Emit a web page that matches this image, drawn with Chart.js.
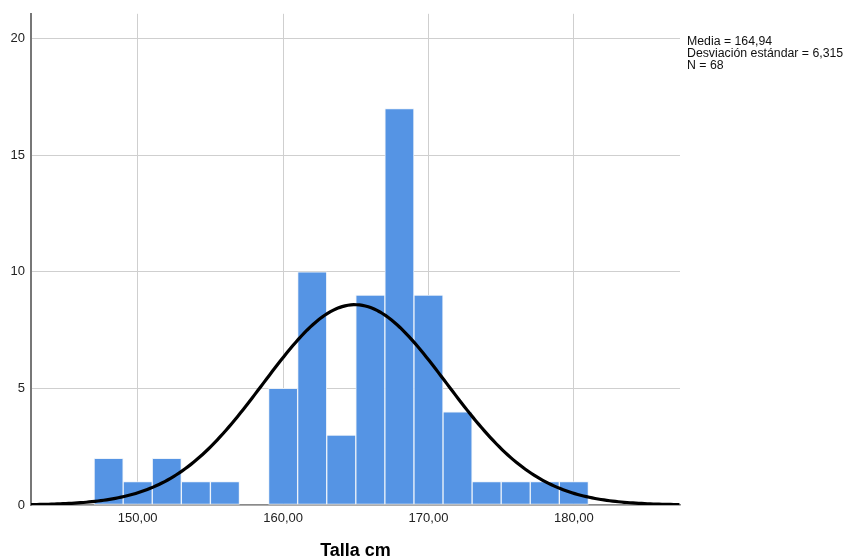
<!DOCTYPE html>
<html>
<head>
<meta charset="utf-8">
<script src="https://cdn.jsdelivr.net/npm/chart.js@4/dist/chart.umd.min.js"></script>
<style>
  html, body { margin: 0; padding: 0; background: #fff; }
  #wrap { width: 848px; height: 560px; }
</style>
</head>
<body>
<div id="wrap"><canvas id="myChart" width="848" height="560"></canvas></div>
<script>
// bin centres (2 cm wide) and counts
const binCenters = [148, 150, 152, 154, 156, 158, 160, 162, 164, 166, 168, 170, 172, 174, 176, 178, 180];
const counts     = [2, 1, 2, 1, 1, 0, 5, 10, 3, 9, 17, 9, 4, 1, 1, 1, 1];
const xTicks = [150, 160, 170, 180];
const yTicks = [0, 5, 10, 15, 20];
const media = 164.94;
const desviacion = 6.315;
const n = 68;
const binWidth = 2;
const statLines = ['Media = 164,94', 'Desviación estándar = 6,315', 'N = 68'];

const xMin = 142.66, xMax = 187.3;

// fitted normal curve scaled to counts per bin
const curve = [];
for (let x = xMin; x <= xMax + 0.001; x += 0.2) {
    const z = (x - media) / desviacion;
    curve.push({ x: x, y: n * binWidth / (desviacion * Math.sqrt(2 * Math.PI)) * Math.exp(-0.5 * z * z) });
}

const fmt = v => v.toFixed(2).replace('.', ',');

const statsText = {
    id: 'statsText',
    afterDraw(chart) {
        const ctx = chart.ctx;
        ctx.save();
        ctx.font = '12.3px "Liberation Sans", Arial, sans-serif';
        ctx.fillStyle = '#111';
        ctx.textBaseline = 'middle';
        statLines.forEach((t, i) => ctx.fillText(t, 687, 42 + i * 12));
        ctx.restore();
    }
};

Chart.defaults.font.family = '"Liberation Sans", Arial, sans-serif';
Chart.defaults.color = '#222';

new Chart(document.getElementById('myChart').getContext('2d'), {
    type: 'bar',
    data: {
        datasets: [
            {
                type: 'line',
                data: curve,
                borderColor: '#000',
                borderWidth: 3.2,
                pointRadius: 0,
                tension: 0,
                order: 0
            },
            {
                data: binCenters.map((c, i) => ({ x: c, y: counts[i] })),
                backgroundColor: '#5594e4',
                borderColor: 'rgba(235,242,250,0.9)',
                borderWidth: 1,
                borderSkipped: false,
                barPercentage: 1,
                categoryPercentage: 1,
                order: 1
            }
        ]
    },
    options: {
        responsive: false,
        animation: false,
        layout: { padding: { left: 0, right: 168, top: 12, bottom: 0 } },
        plugins: { legend: { display: false }, tooltip: { enabled: false } },
        scales: {
            x: {
                type: 'linear',
                min: xMin,
                max: xMax,
                offset: false,
                afterBuildTicks: s => { s.ticks = xTicks.map(v => ({ value: v })); },
                afterFit: s => { s.height = 55; },
                ticks: { callback: v => fmt(v), font: { size: 13 }, padding: 6, maxRotation: 0, autoSkip: false },
                grid: { color: '#cfcfcf', drawTicks: false, lineWidth: 1, offset: false },
                border: { color: '#8a8a8a', width: 1.5 },
                title: { display: true, text: 'Talla cm', font: { size: 18, weight: 'bold' }, color: '#000', padding: { top: 0, bottom: -2 } }
            },
            y: {
                min: 0,
                max: 21.07,
                afterBuildTicks: s => { s.ticks = yTicks.map(v => ({ value: v })); },
                afterFit: s => { s.width = 31; },
                ticks: { font: { size: 13 }, padding: 6 },
                grid: { color: '#cfcfcf', drawTicks: false, lineWidth: 1 },
                border: { color: '#777', width: 2 }
            }
        }
    },
    plugins: [statsText]
});
</script>
</body>
</html>
